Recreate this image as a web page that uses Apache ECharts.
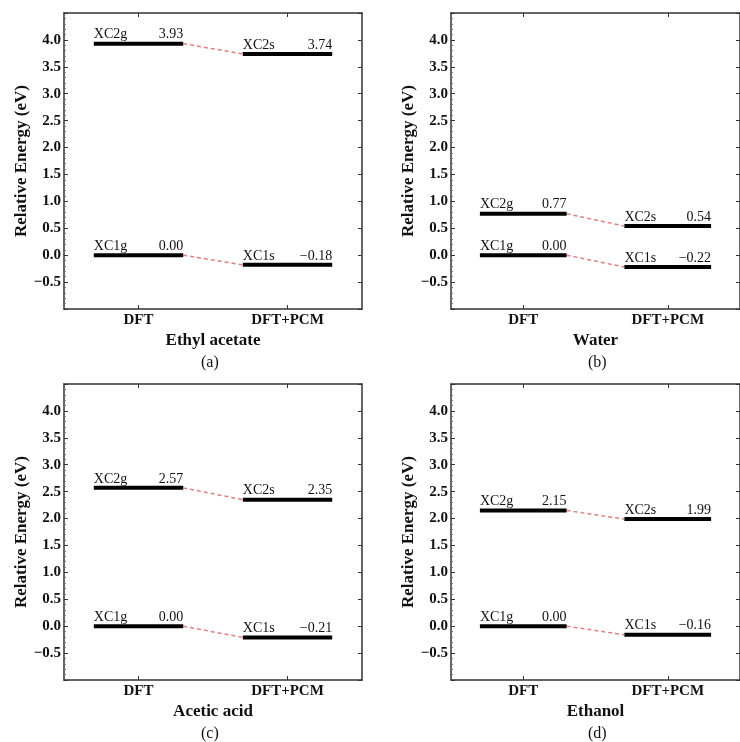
<!DOCTYPE html>
<html>
<head>
<meta charset="utf-8">
<script src="https://cdn.jsdelivr.net/npm/echarts@6/dist/echarts.min.js"></script>
<style>
html,body{margin:0;padding:0;background:#fff;}
#chart{width:740px;height:742px;}
</style>
</head>
<body>
<div id="chart"></div>
<script>
// ---- data ----
const categories = ['DFT', 'DFT+PCM'];
const solvents = ['Ethyl acetate', 'Water', 'Acetic acid', 'Ethanol'];
const panelTags = ['(a)', '(b)', '(c)', '(d)'];
const gasNames = ['XC1g', 'XC2g'];
const solvNames = ['XC1s', 'XC2s'];
const xc1Gas = [0.00, 0.00, 0.00, 0.00];
const xc2Gas = [3.93, 0.77, 2.57, 2.15];
const xc1Solv = [-0.18, -0.22, -0.21, -0.16];
const xc2Solv = [3.74, 0.54, 2.35, 1.99];
const yMin = -1.0, yMax = 4.5, yStep = 0.5;
const yTickLabels = ['-0.5', '0.0', '0.5', '1.0', '1.5', '2.0', '2.5', '3.0', '3.5', '4.0'];
const yTitle = 'Relative Energy (eV)';

// ---- layout ----
const grids = [
  {left: 64, top: 13, width: 298, height: 296},
  {left: 451, top: 13, width: 298, height: 296},
  {left: 64, top: 384, width: 298, height: 296},
  {left: 451, top: 384, width: 298, height: 296}
];
const serif = '"Liberation Serif", "DejaVu Serif", serif';
const axisColor = '#333';
const fmtNum = v => v.toFixed(2).replace('-', '\u2212');
const fmtTick = v => {
  const s = v.toFixed(1);
  return yTickLabels.indexOf(s) >= 0 ? s.replace('-', '\u2212') : '';
};

const xAxes = [], yAxes = [], series = [], graphics = [];
grids.forEach((g, i) => {
  xAxes.push({
    type: 'category', gridIndex: i, data: categories, position: 'bottom',
    boundaryGap: true,
    name: solvents[i], nameLocation: 'middle', nameGap: 23,
    nameTextStyle: {fontFamily: serif, fontSize: 17, fontWeight: 'bold', color: '#111'},
    axisLine: {show: true, onZero: false, lineStyle: {color: axisColor, width: 1.5}},
    axisTick: {show: true, inside: true, alignWithLabel: true, length: 4, lineStyle: {color: axisColor}},
    axisLabel: {fontFamily: serif, fontSize: 15, fontWeight: 'bold', color: '#111', margin: 4},
    splitLine: {show: false}
  });
});
grids.forEach((g, i) => {
  xAxes.push({
    type: 'category', gridIndex: i, data: categories, position: 'top',
    boundaryGap: true,
    axisLine: {show: true, onZero: false, lineStyle: {color: axisColor, width: 1.5}},
    axisTick: {show: true, inside: true, alignWithLabel: true, length: 4, lineStyle: {color: axisColor}},
    axisLabel: {show: false},
    splitLine: {show: false}
  });
});
grids.forEach((g, i) => {
  yAxes.push({
    type: 'value', gridIndex: i, position: 'left', min: yMin, max: yMax, interval: yStep,
    name: yTitle, nameLocation: 'middle', nameRotate: 90, nameGap: 34,
    nameTextStyle: {fontFamily: serif, fontSize: 17, fontWeight: 'bold', color: '#111'},
    axisLine: {show: true, onZero: false, lineStyle: {color: axisColor, width: 1.5}},
    axisTick: {show: true, inside: true, length: 4, lineStyle: {color: axisColor}},
    minorTick: {show: true, splitNumber: 5, length: 2, lineStyle: {color: '#777'}},
    axisLabel: {fontFamily: serif, fontSize: 15, fontWeight: 'bold', color: '#111', margin: 3, formatter: fmtTick},
    splitLine: {show: false}
  });
});
grids.forEach((g, i) => {
  yAxes.push({
    type: 'value', gridIndex: i, position: 'right', min: yMin, max: yMax, interval: yStep,
    axisLine: {show: true, onZero: false, lineStyle: {color: axisColor, width: 1.5}},
    axisTick: {show: true, inside: true, length: 4, lineStyle: {color: axisColor}},
    axisLabel: {show: false},
    splitLine: {show: false}
  });
});

grids.forEach((g, i) => {
  const levels = [
    {value: [0, xc1Gas[i]], name: gasNames[0]},
    {value: [0, xc2Gas[i]], name: gasNames[1]},
    {value: [1, xc1Solv[i]], name: solvNames[0]},
    {value: [1, xc2Solv[i]], name: solvNames[1]}
  ];
  const links = [
    [0, xc1Gas[i], 1, xc1Solv[i]],
    [0, xc2Gas[i], 1, xc2Solv[i]]
  ];
  series.push({
    type: 'custom', xAxisIndex: i, yAxisIndex: i, data: links,
    encode: {x: [0, 2], y: [1, 3]}, silent: true, z: 2,
    renderItem: (params, api) => {
      const bw = api.size([1, 0])[0];
      const a = api.coord([api.value(0), api.value(1)]);
      const b = api.coord([api.value(2), api.value(3)]);
      return {
        type: 'line',
        shape: {x1: a[0] + 0.3 * bw, y1: a[1], x2: b[0] - 0.3 * bw, y2: b[1]},
        style: {stroke: '#e08080', lineWidth: 1.5, lineDash: [4, 3]}
      };
    }
  });
  series.push({
    type: 'custom', xAxisIndex: i, yAxisIndex: i, data: levels,
    encode: {x: 0, y: 1}, silent: true, z: 3,
    renderItem: (params, api) => {
      const bw = api.size([1, 0])[0];
      const v = api.value(1);
      const p = api.coord([api.value(0), v]);
      const half = 0.3 * bw;
      const nm = levels[params.dataIndex].name;
      return {
        type: 'group',
        children: [
          {type: 'line', shape: {x1: p[0] - half, y1: p[1], x2: p[0] + half, y2: p[1]},
           style: {stroke: '#000', lineWidth: 4}},
          {type: 'text', x: p[0] - half, y: p[1] - 2,
           style: {text: nm, textAlign: 'left', textVerticalAlign: 'bottom',
                   font: '14px ' + serif, fill: '#111'}},
          {type: 'text', x: p[0] + half, y: p[1] - 2,
           style: {text: fmtNum(v), textAlign: 'right', textVerticalAlign: 'bottom',
                   font: '14px ' + serif, fill: '#111'}}
        ]
      };
    }
  });
  graphics.push({
    type: 'text', left: g.left + g.width / 2 - 12, top: g.top + g.height + 46,
    style: {text: panelTags[i], font: '16px ' + serif, fill: '#111'}
  });
});

const chart = echarts.init(document.getElementById('chart'), null, {renderer: 'canvas'});
chart.setOption({
  animation: false,
  backgroundColor: '#fff',
  grid: grids,
  xAxis: xAxes,
  yAxis: yAxes,
  series: series,
  graphic: graphics
});
</script>
</body>
</html>
